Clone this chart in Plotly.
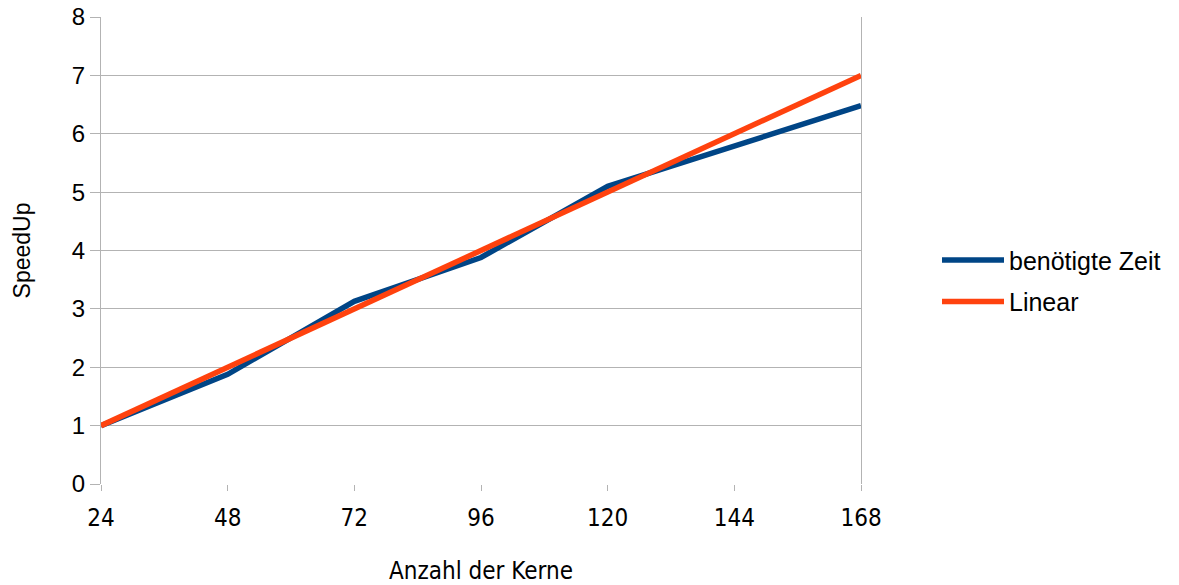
import plotly.graph_objects as go

kerne = [24, 48, 72, 96, 120, 144, 168]
zeit_speedup = [1.0, 1.88, 3.13, 3.88, 5.1, 5.8, 6.48]
linear_speedup = [1, 2, 3, 4, 5, 6, 7]
x_ticks = [24, 48, 72, 96, 120, 144, 168]
y_ticks = [0, 1, 2, 3, 4, 5, 6, 7, 8]

FONT = "Liberation Sans, Arial, sans-serif"
NARROW = "Liberation Sans Narrow, DejaVu Sans Condensed, Liberation Sans, sans-serif"
fig = go.Figure()
fig.add_trace(go.Scatter(x=kerne, y=zeit_speedup, mode="lines", name="benötigte Zeit",
                         legendgroup="a", line=dict(color="#004586", width=5.5)))
fig.add_trace(go.Scatter(x=kerne, y=linear_speedup, mode="lines", name="Linear",
                         legendgroup="b", line=dict(color="#ff420e", width=5.5)))

fig.update_layout(
    width=1179, height=585,
    margin=dict(l=101, r=318, t=17, b=101, autoexpand=False),
    plot_bgcolor="white", paper_bgcolor="white",
    font=dict(family=FONT, color="#000000"),
    legend=dict(x=1.1, y=0.435, xanchor="left", yanchor="middle",
                font=dict(size=25, family=FONT), tracegroupgap=6,
                traceorder="grouped", itemwidth=62),
    xaxis=dict(range=[24, 168], tickvals=x_ticks, showgrid=False, zeroline=False,
               ticks="outside", ticklen=6, tickcolor="#b3b3b3",
               showline=False, automargin=False, ticklabelstandoff=6,
               tickfont=dict(size=24, family=NARROW),
               title=dict(text="Anzahl der Kerne", font=dict(size=24, family=NARROW), standoff=33)),
    yaxis=dict(range=[0, 8], tickvals=y_ticks, showgrid=True, gridcolor="#b3b3b3",
               zeroline=False, ticks="outside", ticklen=10, tickcolor="#b3b3b3",
               showline=True, linecolor="#b3b3b3", mirror=True, automargin=False,
               tickfont=dict(size=24, family=FONT),
               title=dict(text="SpeedUp", font=dict(size=23, family=FONT), standoff=34)),
)
fig.write_html("out.html", config={"displayModeBar": False},
               post_script="document.body.style.margin='0';")
